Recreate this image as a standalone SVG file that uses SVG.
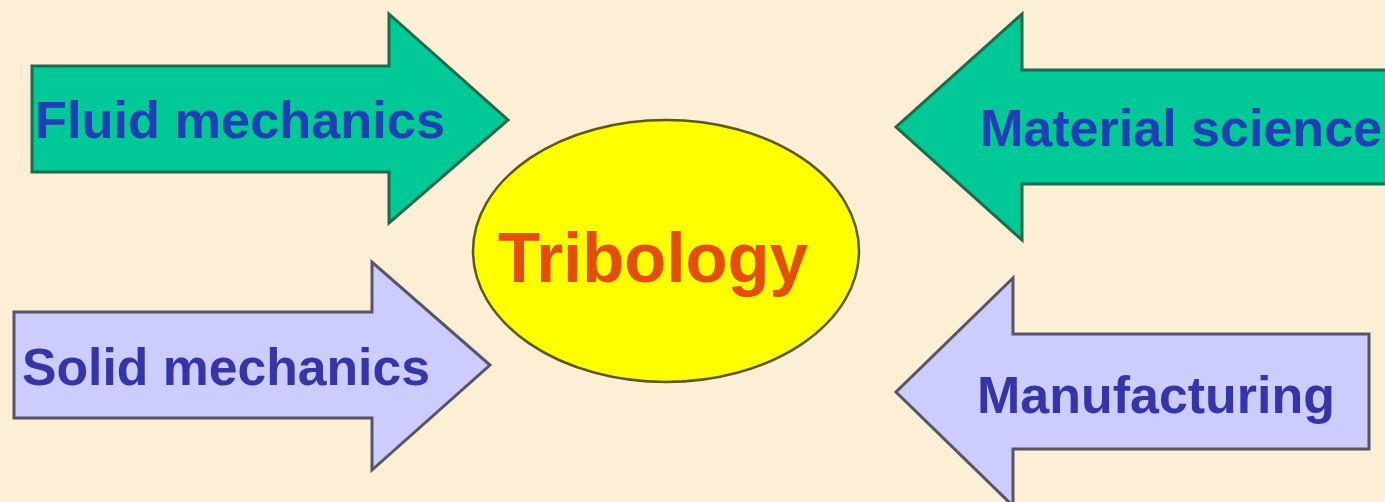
<svg xmlns="http://www.w3.org/2000/svg" width="1385" height="502" viewBox="0 0 1385 502">
<style>
.green{fill:#00c896;stroke:#1f6a4a;stroke-width:3;stroke-linejoin:miter}
.lav{fill:#ccccff;stroke:#555566;stroke-width:3;stroke-linejoin:miter}
.lbl{font-family:"Liberation Sans",Arial,sans-serif;font-weight:bold}
.g{fill:#1e40b4}
.l{fill:#3535a8}
</style>
<rect x="0" y="0" width="1385" height="502" fill="#fcefd6"/>
<g id="connectors"/>
<g id="fluid">
<polygon class="green" points="32,66 389,66 389,14 508,120 389,223 389,172 32,172"/>
<text class="lbl g" x="35" y="138" font-size="52" textLength="410" lengthAdjust="spacingAndGlyphs">Fluid mechanics</text>
</g>
<g id="material">
<polygon class="green" points="1390,70 1022,70 1022,14 896,127 1022,240 1022,184 1390,184"/>
<text class="lbl g" x="980" y="146" font-size="52" textLength="402" lengthAdjust="spacingAndGlyphs">Material science</text>
</g>
<g id="solid">
<polygon class="lav" points="14,312 372,312 372,262 490,365 372,470 372,418 14,418"/>
<text class="lbl l" x="22" y="385" font-size="52" textLength="408" lengthAdjust="spacingAndGlyphs">Solid mechanics</text>
</g>
<g id="manufacturing">
<polygon class="lav" points="1369,334 1013,334 1013,278 896,392 1013,506 1013,449 1369,449"/>
<text class="lbl l" x="977" y="413" font-size="52" textLength="358" lengthAdjust="spacingAndGlyphs">Manufacturing</text>
</g>
<g id="tribology">
<ellipse cx="666" cy="251" rx="193" ry="131" fill="#ffff00" stroke="#5c5a10" stroke-width="2.5"/>
<text x="498" y="282" font-family="Liberation Sans, Arial, sans-serif" font-weight="bold" font-size="70" fill="#e54d0a" textLength="310" lengthAdjust="spacingAndGlyphs">Tribology</text>
</g>
</svg>
